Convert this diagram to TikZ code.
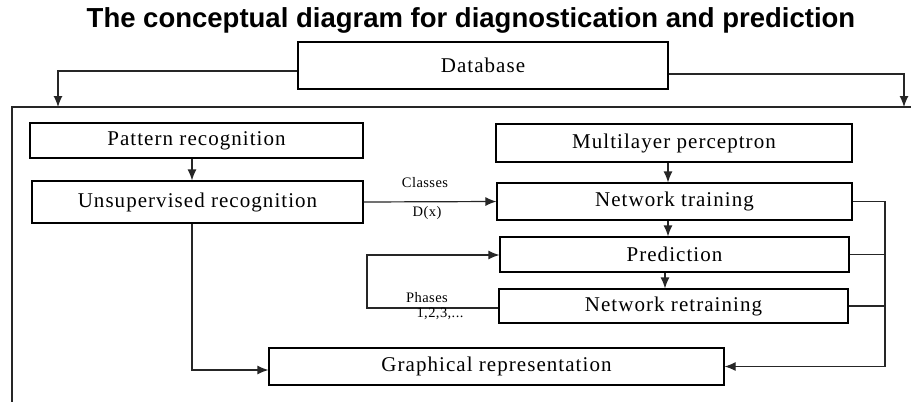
\documentclass[tikz,border=0pt]{standalone}
\usepackage{fontspec}
\setmainfont{Liberation Serif}
\newfontfamily\titlefont{Liberation Sans}
\newfontfamily\boxfont[LetterSpace=5]{Liberation Serif}
\newfontfamily\lblfont[LetterSpace=3]{Liberation Serif}
\usetikzlibrary{arrows.meta,calc}
\begin{document}
\begin{tikzpicture}[x=1pt,y=-1pt,
  box/.style n args={2}{draw=black, line width=1.2pt, fill=white, inner sep=0pt,
    minimum width=#1, minimum height=#2, font=\boxfont\fontsize{21}{24}\selectfont},
  conn/.style={draw=black!85, line width=1.2pt},
  arr/.style={conn, -{Latex[length=11pt,width=9pt]}},
  lbl/.style={inner sep=0pt, font=\lblfont\fontsize{14.5}{16}\selectfont}]
\useasboundingbox[fill=white] (0,0) rectangle (911,402);

% title
\node[anchor=base, inner sep=0pt, font=\titlefont\bfseries\fontsize{27.5}{32}\selectfont] (title) at (471,27)
  {The conceptual diagram for diagnostication and prediction};

% frame
\coordinate (frTR) at (911,107);
\coordinate (frTL) at (12,107);
\coordinate (frBL) at (12,402);
\draw[conn] (frTR) -- (frTL) -- (frBL);

% nodes
\node[box={370pt}{47pt}] (db) at (483,65.5) {Database};
\node[box={333pt}{35pt}] (pat) at (196.5,140.5) {Pattern recognition};
\node[box={331pt}{42pt}] (uns) at (197.5,202) {Unsupervised recognition};
\node[box={356pt}{38pt}] (mlp) at (674,143) {Multilayer perceptron};
\node[box={355pt}{37pt}] (nt) at (674.5,201.5) {Network training};
\node[box={349pt}{35pt}] (pred) at (674.5,254.5) {Prediction};
\node[box={349pt}{34pt}] (nr) at (673.5,306) {Network retraining};
\node[box={455pt}{37pt}] (gr) at (496.5,366.5) {Graphical representation};

% helper coordinates
\coordinate (dbL) at (58,107);
\coordinate (dbR) at (904,107);
\coordinate (ux) at (192,0);
\coordinate (rx) at (885,0);
\coordinate (cx) at (668,0);
\coordinate (cx2) at (665,0);

% database to frame
\draw[arr] ([yshift=-5.5pt]db.west) -| (dbL);
\draw[arr] ([yshift=-8.5pt]db.east) -| (dbR);

% left column
\draw[arr] (pat.south -| ux) -- (uns.north -| ux);
\draw[arr] (uns.south -| ux) |- ([yshift=-3.5pt]gr.west);

% classes
\draw[arr] (uns.east) -- (nt.west);
\node[lbl] (cls) at (425,183) {Classes};
\node[lbl] (dx) at (427,213) {D(x)};

% right column
\draw[arr] (mlp.south -| cx) -- (nt.north -| cx);
\draw[arr] (nt.south -| cx) -- (pred.north -| cx);
\draw[arr] (pred.south -| cx2) -- (nr.north -| cx2);

% feedback to graphical representation
\draw[conn] (nt.east) -| (rx |- gr.east);
\draw[arr] (rx |- gr.east) -- (gr.east);
\draw[conn] (pred.east) -- (pred.east -| rx);
\draw[conn] (nr.east) -- (nr.east -| rx);

% retraining loop
\coordinate (loopB) at (367,308);
\coordinate (loopT) at (367,255);
\draw[arr] ([yshift=-2pt]nr.west) -- (loopB) -- (loopT) -- (pred.west |- loopT);
\node[lbl] (ph) at (427,298) {Phases};
\node[lbl] (ph2) at (440,314) {1,2,3,...};
\end{tikzpicture}
\end{document}
